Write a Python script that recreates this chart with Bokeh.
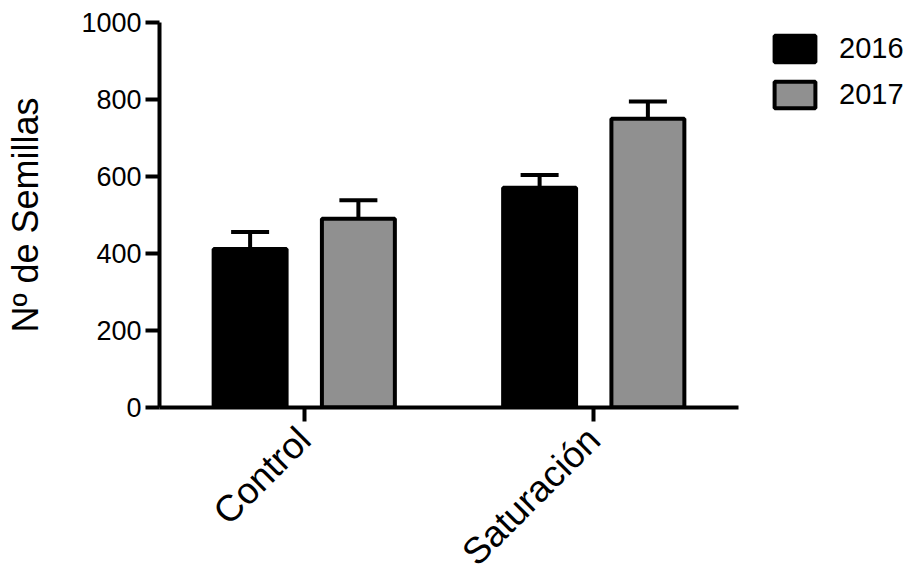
import math
from bokeh.plotting import figure
from bokeh.models import ColumnDataSource, Range1d, FixedTicker, Whisker, TeeHead, Legend, LegendItem
from bokeh.transform import dodge
from bokeh.embed import file_html
from bokeh.resources import INLINE

categories = ["Control", "Saturación"]
years = ["2016", "2017"]
mean_2016 = [412, 571]
mean_2017 = [490, 750]
sem_2016 = [44, 33]
sem_2017 = [48, 45]
y_ticks = [0, 200, 400, 600, 800, 1000]

FONT = "Liberation Sans"
GREY = "#909090"

src = ColumnDataSource(dict(
    cat=categories,
    y16=mean_2016,
    y17=mean_2017,
    u16=[m + e for m, e in zip(mean_2016, sem_2016)],
    u17=[m + e for m, e in zip(mean_2017, sem_2017)],
))

p = figure(x_range=categories, y_range=Range1d(0, 1000),
           frame_width=579, frame_height=385,
           min_border_left=159, min_border_top=22, min_border_bottom=150, min_border_right=170,
           output_backend="svg", toolbar_location=None)
p.x_range.range_padding = 0
p.outline_line_color = None
p.xgrid.visible = False
p.ygrid.visible = False
p.background_fill_color = "white"

OFF = 0.187
BW = 0.252

r16 = p.vbar(x=dodge("cat", -OFF, range=p.x_range), top="y16", width=BW, source=src,
             fill_color="black", line_color="black", line_width=4)
r17 = p.vbar(x=dodge("cat", OFF, range=p.x_range), top="y17", width=BW, source=src,
             fill_color=GREY, line_color="black", line_width=4)

for off, lo, up in [(-OFF, "y16", "u16"), (OFF, "y17", "u17")]:
    w = Whisker(base=dodge("cat", off, range=p.x_range), lower=lo, upper=up, source=src,
                line_color="black", line_width=4,
                upper_head=TeeHead(size=38, line_width=4, line_color="black"),
                lower_head=None, level="underlay")
    p.add_layout(w)

# axes
for ax in (p.xaxis[0], p.yaxis[0]):
    ax.axis_line_width = 4
    ax.axis_line_color = "black"
    ax.major_tick_line_width = 4
    ax.major_tick_line_color = "black"
    ax.major_tick_out = 14
    ax.major_tick_in = 0
    ax.minor_tick_line_color = None
    ax.major_label_text_font = FONT
    ax.major_label_text_color = "black"

p.yaxis.ticker = FixedTicker(ticks=y_ticks)
p.yaxis.major_label_text_font_size = "27px"
p.yaxis.major_label_standoff = 4
p.yaxis.axis_label = "Nº de Semillas"
p.yaxis.axis_label_text_font = FONT
p.yaxis.axis_label_text_font_size = "36px"
p.yaxis.axis_label_text_font_style = "normal"
p.yaxis.axis_label_text_color = "black"
p.yaxis.axis_label_standoff = 32

p.xaxis.major_label_text_font_size = "37px"
p.xaxis.major_label_orientation = math.pi / 4
p.xaxis.major_label_standoff = 12

legend = Legend(items=[LegendItem(label=years[0], renderers=[r16]),
                       LegendItem(label=years[1], renderers=[r17])],
                location=(31, 296), orientation="vertical",
                glyph_width=51, glyph_height=33, spacing=13, label_standoff=19,
                padding=0, margin=0, border_line_color=None, background_fill_alpha=0,
                label_text_font=FONT, label_text_font_size="29px", label_text_color="black",
                label_height=33)
p.add_layout(legend, "right")

open("out.html", "w").write(file_html(p, INLINE))
